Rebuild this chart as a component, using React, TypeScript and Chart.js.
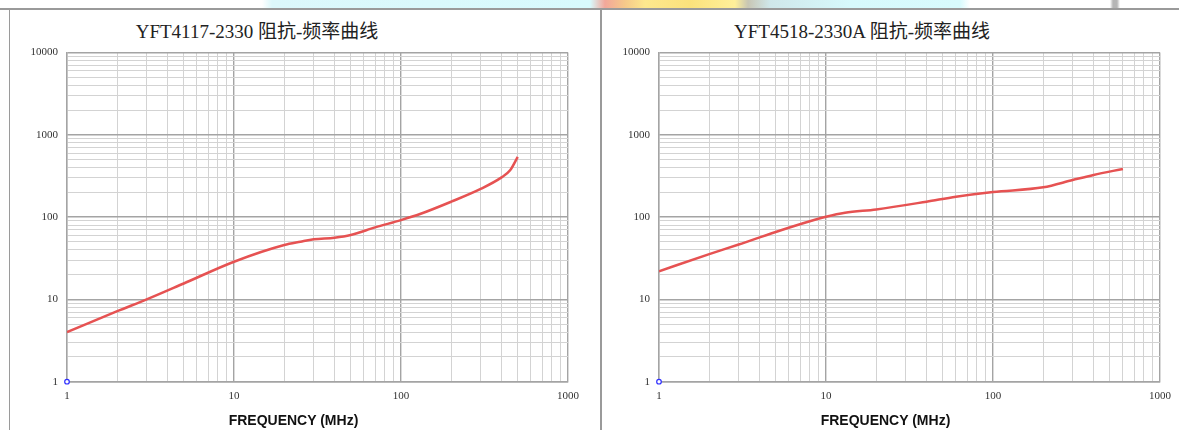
import React, { useEffect, useRef } from "react";
import { Chart, registerables } from "chart.js";

Chart.register(...registerables);

// Grid / tick values
const freqTicks = [1, 2, 3, 4, 5, 6, 7, 8, 9, 10, 20, 30, 40, 50, 60, 70, 80, 90, 100, 200, 300, 400, 500, 600, 700, 800, 900, 1000];
const impTicks = [1, 2, 3, 4, 5, 6, 7, 8, 9, 10, 20, 30, 40, 50, 60, 70, 80, 90, 100, 200, 300, 400, 500, 600, 700, 800, 900, 1000, 2000, 3000, 4000, 5000, 6000, 7000, 8000, 9000, 10000];
const labelledTicks = [1, 10, 100, 1000, 10000];

const xAxisTitle = "FREQUENCY (MHz)";

// Left chart
const leftTitle = "YFT4117-2330 阻抗-频率曲线";
const leftFreq = [1, 2, 3, 5, 10, 20, 25, 30, 40, 50, 70, 100, 130, 200, 300, 400, 450, 500];
const leftImp = [4, 7.2, 10, 15.6, 28.7, 45.8, 50.2, 53.7, 56.2, 60.6, 75, 92, 109, 154, 220, 304, 370, 540];

// Right chart
const rightTitle = "YFT4518-2330A 阻抗-频率曲线";
const rightFreq = [1, 2, 3, 5, 8, 10, 13, 20, 40, 60, 100, 200, 300, 400, 600];
const rightImp = [22, 35.5, 46.5, 66, 89, 101, 113, 124, 154, 177, 202, 230, 282, 325, 385];

// Origin marker
const markerFreq = [1];
const markerImp = [1];

function gridColor(ctx: any) {
  const v = ctx.tick ? ctx.tick.value : 0;
  return labelledTicks.includes(v) ? "#a4a4a4" : "#d3d3d3";
}
function gridWidth(ctx: any) {
  const v = ctx.tick ? ctx.tick.value : 0;
  return labelledTicks.includes(v) ? 1.4 : 1;
}

function ImpedanceChart({ freq, imp }: { freq: number[]; imp: number[] }) {
  const ref = useRef<HTMLCanvasElement | null>(null);
  useEffect(() => {
    const tickFont = { family: "'Liberation Serif', serif", size: 11 };
    const chart = new Chart(ref.current as HTMLCanvasElement, {
      type: "line",
      data: {
        datasets: [
          {
            data: freq.map((f, i) => ({ x: f, y: imp[i] })),
            borderColor: "#e65252",
            borderWidth: 2.5,
            pointRadius: 0,
            cubicInterpolationMode: "monotone",
            fill: false,
          },
          {
            data: markerFreq.map((f, i) => ({ x: f, y: markerImp[i] })),
            showLine: false,
            pointRadius: 2.3,
            pointBorderColor: "#2f2fff",
            pointBackgroundColor: "#ffffff",
            pointBorderWidth: 1.2,
            clip: false,
          } as any,
        ],
      },
      options: {
        animation: false,
        responsive: false,
        maintainAspectRatio: false,
        layout: { padding: { top: 8.5, right: 22, bottom: 0, left: 0 } },
        plugins: { legend: { display: false }, tooltip: { enabled: false }, title: { display: false } },
        scales: {
          x: {
            type: "logarithmic",
            min: 1,
            max: 1000,
            afterBuildTicks: (s: any) => {
              s.ticks = freqTicks.map((v) => ({ value: v }));
            },
            afterFit: (s: any) => {
              s.height = 48.3;
              s.paddingLeft = 0;
              s.paddingRight = 0;
            },
            grid: { color: gridColor, lineWidth: gridWidth, drawTicks: false },
            border: { color: "#a4a4a4", width: 1.4 },
            ticks: {
              autoSkip: false,
              maxRotation: 0,
              minRotation: 0,
              padding: 8,
              font: tickFont,
              color: "#333",
              callback: (v: any) => (labelledTicks.includes(Number(v)) ? String(v) : ""),
            },
            title: { display: false },
          },
          y: {
            type: "logarithmic",
            min: 1,
            max: 10000,
            afterBuildTicks: (s: any) => {
              s.ticks = impTicks.map((v) => ({ value: v }));
            },
            afterFit: (s: any) => {
              s.width = 57;
              s.paddingTop = 0;
              s.paddingBottom = 0;
            },
            grid: { color: gridColor, lineWidth: gridWidth, drawTicks: false },
            border: { color: "#a4a4a4", width: 1.4 },
            ticks: {
              autoSkip: false,
              padding: 9,
              font: tickFont,
              color: "#333",
              callback: (v: any) => (labelledTicks.includes(Number(v)) ? String(v) : ""),
            },
          },
        },
      } as any,
    });
    return () => chart.destroy();
  }, []);
  return <canvas ref={ref} width={580} height={386} style={{ width: 580, height: 386, display: "block" }} />;
}

const titleStyle: React.CSSProperties = {
  position: "absolute",
  top: 21,
  width: 400,
  textAlign: "center",
  fontFamily: "'Liberation Serif', 'Noto Sans CJK SC', serif",
  fontSize: 19,
  lineHeight: "22px",
  color: "#222",
  whiteSpace: "nowrap",
};

const axisTitleStyle: React.CSSProperties = {
  position: "absolute",
  top: 412,
  width: 300,
  textAlign: "center",
  fontFamily: "'Liberation Sans', Arial, sans-serif",
  fontWeight: "bold",
  fontSize: 14,
  lineHeight: "17px",
  color: "#111",
  whiteSpace: "nowrap",
};

export default function App() {
  useEffect(() => {
    document.body.style.margin = "0";
  }, []);
  return (
    <div style={{ position: "absolute", left: 0, top: 0, width: 1179, height: 430, overflow: "hidden", background: "#fff" }}>
      <div
        style={{
          position: "absolute",
          left: 0,
          top: 0,
          width: 1179,
          height: 8,
          background:
            "linear-gradient(to right, #ffffff 0px, #ffffff 262px, #dcf8fb 272px, #d8fafd 590px, #f2a79a 605px, #f6c98a 625px, #fde88e 645px, #fbe27c 690px, #fff09a 735px, #c8c6b4 748px, #cfe7ea 770px, #d7f9fc 850px, #d8fbfd 960px, #ffffff 970px, #ffffff 1110px, #b5b5b5 1113px, #b5b5b5 1117px, #ffffff 1120px)",
        }}
      />
      <div style={{ position: "absolute", left: 0, top: 8, width: 1179, height: 1.5, background: "#9a9a9a" }} />
      <div style={{ position: "absolute", left: 8.5, top: 8, width: 1.5, height: 430, background: "#9a9a9a" }} />
      <div style={{ position: "absolute", left: 600, top: 8, width: 2, height: 430, background: "#9a9a9a" }} />
      <div style={{ ...titleStyle, left: 257 - 200 }}>{leftTitle}</div>
      <div style={{ ...titleStyle, left: 862 - 200 }}>{rightTitle}</div>
      <div style={{ position: "absolute", left: 10, top: 44 }}>
        <ImpedanceChart freq={leftFreq} imp={leftImp} />
      </div>
      <div style={{ position: "absolute", left: 602, top: 44 }}>
        <ImpedanceChart freq={rightFreq} imp={rightImp} />
      </div>
      <div style={{ ...axisTitleStyle, left: 293.5 - 150 }}>{xAxisTitle}</div>
      <div style={{ ...axisTitleStyle, left: 885.5 - 150 }}>{xAxisTitle}</div>
    </div>
  );
}
